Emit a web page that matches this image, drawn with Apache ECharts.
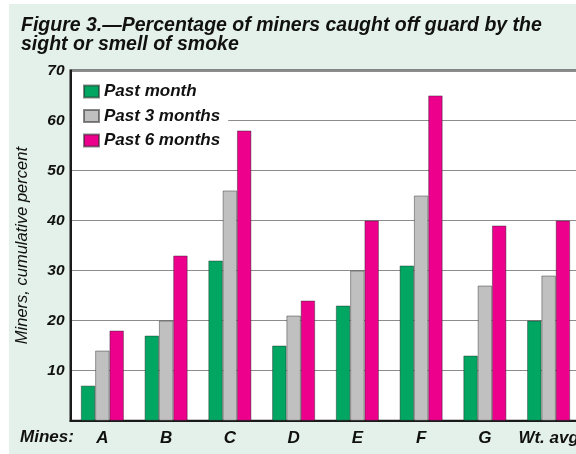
<!DOCTYPE html>
<html>
<head>
<meta charset="utf-8">
<script src="https://cdn.jsdelivr.net/npm/echarts@6/dist/echarts.min.js"></script>
<style>
  html, body { margin: 0; padding: 0; background: #fff; }
  #chart { width: 576px; height: 454px; }
</style>
</head>
<body>
<div id="chart"></div>
<script>
// mines along the x axis
var mines = ['A', 'B', 'C', 'D', 'E', 'F', 'G', 'Wt. avg']
// cumulative percent of miners caught off guard
var pastMonth = [7, 17, 32, 15, 23, 31, 13, 20]
var past3Months = [14, 20, 46, 21, 30, 45, 27, 29]
var past6Months = [18, 33, 58, 24, 40, 65, 39, 40]
var yTicks = [10, 20, 30, 40, 50, 60, 70]

var font = 'Liberation Sans, Arial, sans-serif'

var myChart = echarts.init(document.getElementById('chart'))

myChart.setOption({
    animation: false,
    backgroundColor: '#e4f1ea',
    title: {
        text: 'Figure 3.\u2014Percentage of miners caught off guard by the\nsight or smell of smoke',
        left: 21,
        top: 16,
        padding: 0,
        textStyle: {
            fontFamily: font,
            fontSize: 19.5,
            fontWeight: 'bold',
            fontStyle: 'italic',
            color: '#111',
            lineHeight: 19
        }
    },
    legend: {
        orient: 'vertical',
        left: 72,
        top: 75,
        itemWidth: 15,
        itemHeight: 12,
        itemGap: 7.5,
        icon: 'rect',
        // white box hides the gridlines behind the legend
        backgroundColor: '#fff',
        padding: [8, 8, 10, 11],
        textStyle: {
            fontFamily: font,
            fontSize: 17,
            fontStyle: 'italic',
            fontWeight: 'bold',
            color: '#111'
        },
        data: ['Past month', 'Past 3 months', 'Past 6 months']
    },
    grid: {
        left: 70.5,
        top: 70.5,
        width: 510,
        bottom: 33.3,
        outerBoundsMode: 'none',
        containLabel: false,
        show: true,
        backgroundColor: '#fff',
        borderColor: '#1a1a1a',
        borderWidth: 2
    },
    xAxis: {
        type: 'category',
        data: mines,
        axisLine: {lineStyle: {color: '#1a1a1a', width: 2}},
        axisTick: {show: false},
        axisLabel: {
            interval: 0,
            margin: 9,
            fontFamily: font,
            fontSize: 17,
            fontStyle: 'italic',
            fontWeight: 'bold',
            color: '#111'
        }
    },
    yAxis: {
        type: 'value',
        min: 0,
        max: 70,
        interval: 10,
        name: 'Miners, cumulative percent',
        nameLocation: 'middle',
        nameRotate: 90,
        nameGap: 40,
        nameTextStyle: {
            fontFamily: font,
            fontSize: 16.5,
            fontStyle: 'italic',
            color: '#111'
        },
        axisLine: {show: true, lineStyle: {color: '#1a1a1a', width: 2}},
        axisTick: {show: false},
        axisLabel: {
            margin: 6,
            showMinLabel: false,
            fontFamily: font,
            fontSize: 15.5,
            fontStyle: 'italic',
            fontWeight: 'bold',
            color: '#111',
            formatter: function (v) {
                return yTicks.indexOf(v) >= 0 ? String(v) : ''
            }
        },
        splitLine: {lineStyle: {color: '#8c8c8c', width: 1.2}}
    },
    graphic: [
        {type: 'rect', left: 0, top: 0, shape: {width: 576, height: 4}, style: {fill: '#fff'}},
        {type: 'rect', left: 0, top: 0, shape: {width: 9, height: 454}, style: {fill: '#fff'}},
        {
            type: 'text',
            left: 20,
            top: 429,
            style: {
                text: 'Mines:',
                font: 'italic bold 17px ' + font,
                fill: '#111'
            }
        }
    ],
    series: [
        {
            name: 'Past month',
            type: 'bar',
            barWidth: 14.3,
            barGap: '0%',
            itemStyle: {color: '#00a661', borderColor: 'rgba(40,40,40,0.55)', borderWidth: 0.8},
            data: pastMonth
        },
        {
            name: 'Past 3 months',
            type: 'bar',
            barWidth: 14.3,
            barGap: '0%',
            itemStyle: {color: '#c0c0c0', borderColor: 'rgba(40,40,40,0.55)', borderWidth: 0.8},
            data: past3Months
        },
        {
            name: 'Past 6 months',
            type: 'bar',
            barWidth: 14.3,
            barGap: '0%',
            itemStyle: {color: '#ec008c', borderColor: 'rgba(40,40,40,0.55)', borderWidth: 0.8},
            data: past6Months
        }
    ]
})
</script>
</body>
</html>
